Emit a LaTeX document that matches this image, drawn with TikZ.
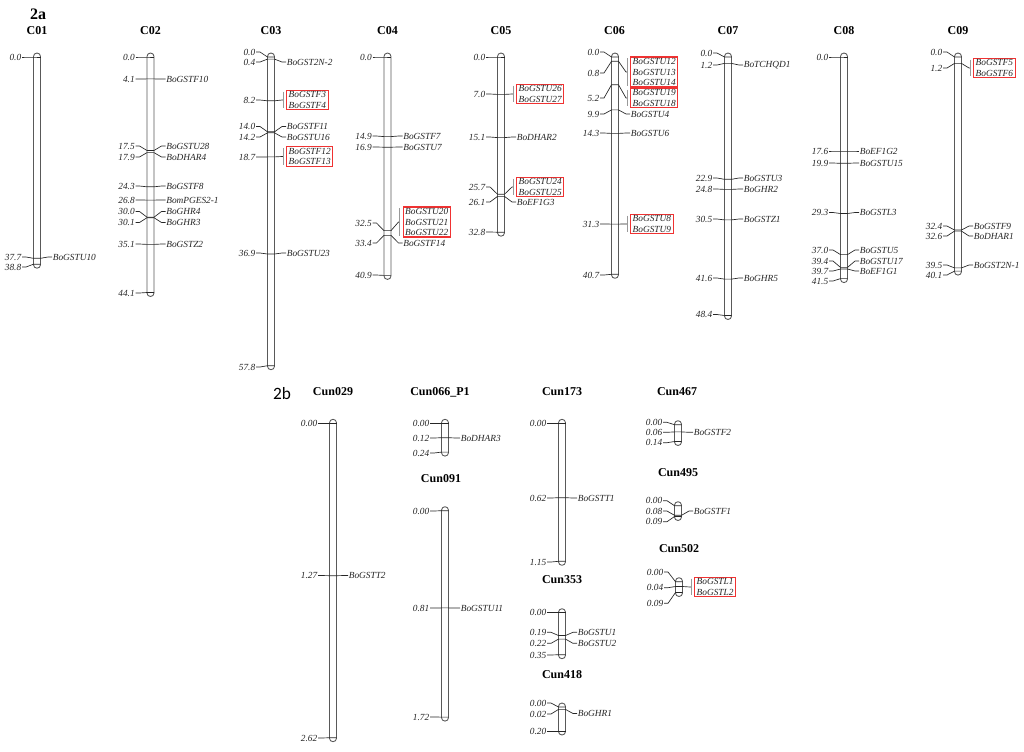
\documentclass[tikz,border=0pt]{standalone}
\usepackage{fontspec}
\setmainfont{Liberation Serif}
\newfontfamily\sansB{Carlito}
\definecolor{boxred}{RGB}{240,50,50}
\newcounter{mk}
\tikzset{
  bar/.style={draw=black!65, line width=0.65pt, fill=white, rounded corners=2.6pt},
  tick/.style={draw=black!85, line width=0.5pt},
  brk/.style={draw=black!40, line width=0.55pt},
  num/.style={font=\fontsize{7}{8}\selectfont\itshape, text=black!85, inner sep=0.4pt},
  gene/.style={num},
  grpbox/.style={draw=boxred, line width=0.85pt, font=\fontsize{7}{7.9}\selectfont\itshape, text=black!85, align=left, inner xsep=1.6pt, inner ysep=1pt},
  ttl/.style={font=\fontsize{9}{10}\selectfont\bfseries, inner sep=0pt}
}
% marker with number on the left and gene on the right: cx, y, label y (left), label y (right), number, gene
\newcommand{\gmk}[6]{%
  \stepcounter{mk}%
  \node[num,anchor=east] (L\themk) at ({#1-15},#3) {#5};
  \node[gene,anchor=west] (R\themk) at ({#1+15},#4) {#6};
  \draw[tick] (L\themk.east) -- ++(4,0) -- ({#1-3.5},#2) -- ({#1+3.5},#2) -- ([xshift=-3pt]R\themk.west) -- (R\themk.west);
}
% end tick: cx, y, label y, number
\newcommand{\emk}[4]{%
  \stepcounter{mk}%
  \node[num,anchor=east] (L\themk) at ({#1-15},#3) {#4};
  \draw[tick] (L\themk.east) -- ++(4,0) -- ({#1-3.5},#2) -- ({#1+3.5},#2);
}
% group marker: cx, y, label y, group centre y, number, genes
\newcommand{\gmg}[6]{%
  \stepcounter{mk}%
  \node[num,anchor=east] (L\themk) at ({#1-15},#3) {#5};
  \node[grpbox,anchor=west] (G\themk) at ({#1+15},#4) {#6};
  \draw[tick] (L\themk.east) -- ++(4,0) -- ({#1-3.5},#2) -- ({#1+3.5},#2) -- ({#1+11},#4) -- ([xshift=-2.2pt]G\themk.west);
  \draw[brk] ([xshift=-2.2pt,yshift=-1.5pt]G\themk.north west) -- ([xshift=-2.2pt,yshift=1.5pt]G\themk.south west);
}
\newcommand{\chr}[3]{\draw[bar] ({#1-3.5},#2) rectangle ({#1+3.5},#3);}
\begin{document}
\begin{tikzpicture}[x=0.75pt,y=-0.75pt]
\useasboundingbox (0,0) rectangle (1024,751);
\fill[white] (0,0) rectangle (1024,751);

% ---------- 2a ----------
\node[font=\fontsize{12}{13}\selectfont\bfseries, inner sep=0pt] (p2a) at (38,14) {2a};
\node[ttl] (tC01) at (37,31) {C01};
\node[ttl] (tC02) at (150.5,31) {C02};
\node[ttl] (tC03) at (271,31) {C03};
\node[ttl] (tC04) at (387.5,31) {C04};
\node[ttl] (tC05) at (501,31) {C05};
\node[ttl] (tC06) at (614.5,31) {C06};
\node[ttl] (tC07) at (728,31) {C07};
\node[ttl] (tC08) at (844,31) {C08};
\node[ttl] (tC09) at (958,31) {C09};

\chr{37}{53}{268.2}
\chr{150.5}{53}{296.5}
\chr{271}{53}{369.7}
\chr{387.5}{53}{279.4}
\chr{501}{53}{236.2}
\chr{615}{53}{278.3}
\chr{728}{53}{319.5}
\chr{844}{53}{282.6}
\chr{958}{53}{275.1}

% C01
\emk{37}{57}{57}{0.0}
\gmk{37}{258.3}{257}{257}{37.7}{BoGSTU10}
\emk{37}{264.2}{267}{38.8}
% C02
\emk{150.5}{57}{57}{0.0}
\gmk{150.5}{78.9}{79}{79}{4.1}{BoGSTF10}
\gmk{150.5}{150.5}{146}{146}{17.5}{BoGSTU28}
\gmk{150.5}{152.6}{157}{157}{17.9}{BoDHAR4}
\gmk{150.5}{186.8}{186}{186}{24.3}{BoGSTF8}
\gmk{150.5}{200.1}{200}{200}{26.8}{BomPGES2-1}
\gmk{150.5}{217.2}{211.5}{211.5}{30.0}{BoGHR4}
\gmk{150.5}{217.7}{222.5}{222.5}{30.1}{BoGHR3}
\gmk{150.5}{244.4}{244}{244}{35.1}{BoGSTZ2}
\emk{150.5}{292.5}{293}{44.1}
% C03
\emk{271}{57}{52}{0.0}
\gmk{271}{59.1}{62}{62}{0.4}{BoGST2N-2}
\gmg{271}{100.8}{100}{100}{8.2}{BoGSTF3\\BoGSTF4}
\gmk{271}{131.8}{126.5}{126.5}{14.0}{BoGSTF11}
\gmk{271}{132.8}{137}{137}{14.2}{BoGSTU16}
\gmg{271}{156.9}{157}{156.5}{18.7}{BoGSTF12\\BoGSTF13}
\gmk{271}{254}{253}{253}{36.9}{BoGSTU23}
\emk{271}{365.7}{367}{57.8}
% C04
\emk{387.5}{57}{57}{0.0}
\gmk{387.5}{136.6}{136}{136}{14.9}{BoGSTF7}
\gmk{387.5}{147.2}{147}{147}{16.9}{BoGSTU7}
\gmg{387.5}{230.6}{223}{222}{32.5}{BoGSTU20\\BoGSTU21\\BoGSTU22}
\gmk{387.5}{235.4}{243}{243}{33.4}{BoGSTF14}
\emk{387.5}{275.4}{275}{40.9}
% C05
\emk{501}{57}{57}{0.0}
\gmg{501}{94.4}{94}{94}{7.0}{BoGSTU26\\BoGSTU27}
\gmk{501}{137.6}{137}{137}{15.1}{BoDHAR2}
\gmg{501}{194.2}{187}{187}{25.7}{BoGSTU24\\BoGSTU25}
\gmk{501}{196.4}{202}{202}{26.1}{BoEF1G3}
\emk{501}{232.2}{232}{32.8}
% C06
\emk{615}{57}{52}{0.0}
\gmg{615}{61.3}{73}{72}{0.8}{BoGSTU12\\BoGSTU13\\BoGSTU14}
\gmg{615}{84.8}{98}{98}{5.2}{BoGSTU19\\BoGSTU18}
\gmk{615}{109.9}{114}{114}{9.9}{BoGSTU4}
\gmk{615}{133.4}{133}{133}{14.3}{BoGSTU6}
\gmg{615}{224.1}{224}{224}{31.3}{BoGSTU8\\BoGSTU9}
\emk{615}{274.3}{275}{40.7}
% C07
\emk{728}{57}{53}{0.0}
\gmk{728}{63.4}{65}{65}{1.2}{BoTCHQD1}
\gmk{728}{179.3}{178}{178}{22.9}{BoGSTU3}
\gmk{728}{189.4}{189}{189}{24.8}{BoGHR2}
\gmk{728}{219.9}{219}{219}{30.5}{BoGSTZ1}
\gmk{728}{279.1}{278}{278}{41.6}{BoGHR5}
\emk{728}{315.5}{314.5}{48.4}
% C08
\emk{844}{57}{57}{0.0}
\gmk{844}{151}{151}{151}{17.6}{BoEF1G2}
\gmk{844}{163.3}{163}{163}{19.9}{BoGSTU15}
\gmk{844}{213.5}{212.5}{212.5}{29.3}{BoGSTL3}
\gmk{844}{254.6}{250}{250}{37.0}{BoGSTU5}
\gmk{844}{267.4}{261}{261}{39.4}{BoGSTU17}
\gmk{844}{269}{271}{271}{39.7}{BoEF1G1}
\emk{844}{278.6}{281}{41.5}
% C09
\emk{958}{57}{52}{0.0}
\gmg{958}{63.4}{68}{68}{1.2}{BoGSTF5\\BoGSTF6}
\gmk{958}{230}{226}{226}{32.4}{BoGSTF9}
\gmk{958}{231.1}{236}{236}{32.6}{BoDHAR1}
\gmk{958}{267.9}{265}{265}{39.5}{BoGST2N-1}
\emk{958}{271.1}{275}{40.1}

% ---------- 2b ----------
\node[font=\sansB\fontsize{13}{14}\selectfont, inner sep=0pt] (p2b) at (282,394) {2b};
\node[ttl] (tU029) at (333,392) {Cun029};
\node[ttl] (tU066) at (440,392) {Cun066\_P1};
\node[ttl] (tU091) at (441,479) {Cun091};
\node[ttl] (tU173) at (562,392) {Cun173};
\node[ttl] (tU353) at (562,580) {Cun353};
\node[ttl] (tU418) at (562,675) {Cun418};
\node[ttl] (tU467) at (677,392) {Cun467};
\node[ttl] (tU495) at (678,473) {Cun495};
\node[ttl] (tU502) at (679,549) {Cun502};

\chr{333}{419.3}{741.7}
\chr{445}{419.3}{456.1}
\chr{445}{506.7}{721.1}
\chr{562}{419.3}{565.3}
\chr{562}{608.7}{658.7}
\chr{562}{703}{735}
\chr{678}{420.7}{445.5}
\chr{678}{501.7}{520.5}
\chr{679}{577.7}{596.5}

% Cun029
\emk{333}{423.3}{423.3}{0.00}
\gmk{333}{575.7}{575.5}{575.5}{1.27}{BoGSTT2}
\emk{333}{737.7}{738}{2.62}
% Cun066_P1
\emk{445}{423.3}{423.3}{0.00}
\gmk{445}{437.7}{438}{438}{0.12}{BoDHAR3}
\emk{445}{452.1}{453}{0.24}
% Cun091
\emk{445}{510.7}{511}{0.00}
\gmk{445}{607.9}{608}{608}{0.81}{BoGSTU11}
\emk{445}{717.1}{717}{1.72}
% Cun173
\emk{562}{423.3}{423.3}{0.00}
\gmk{562}{497.7}{498}{498}{0.62}{BoGSTT1}
\emk{562}{561.3}{562}{1.15}
% Cun353
\emk{562}{612.7}{612.7}{0.00}
\gmk{562}{635.5}{632.3}{632.3}{0.19}{BoGSTU1}
\gmk{562}{639.1}{643.3}{643.3}{0.22}{BoGSTU2}
\emk{562}{654.7}{655}{0.35}
% Cun418
\emk{562}{707}{703}{0.00}
\gmk{562}{709.4}{714}{713.5}{0.02}{BoGHR1}
\emk{562}{731}{731}{0.20}
% Cun467
\emk{678}{424.7}{422.3}{0.00}
\gmk{678}{431.9}{432.3}{432.3}{0.06}{BoGSTF2}
\emk{678}{441.5}{442.7}{0.14}
% Cun495
\emk{678}{505.7}{500.7}{0.00}
\gmk{678}{515.3}{511}{511}{0.08}{BoGSTF1}
\emk{678}{516.5}{521.7}{0.09}
% Cun502
\emk{679}{581.7}{572}{0.00}
\gmg{679}{586.5}{587.7}{587}{0.04}{BoGSTL1\\BoGSTL2}
\emk{679}{592.5}{603.3}{0.09}
\end{tikzpicture}
\end{document}
